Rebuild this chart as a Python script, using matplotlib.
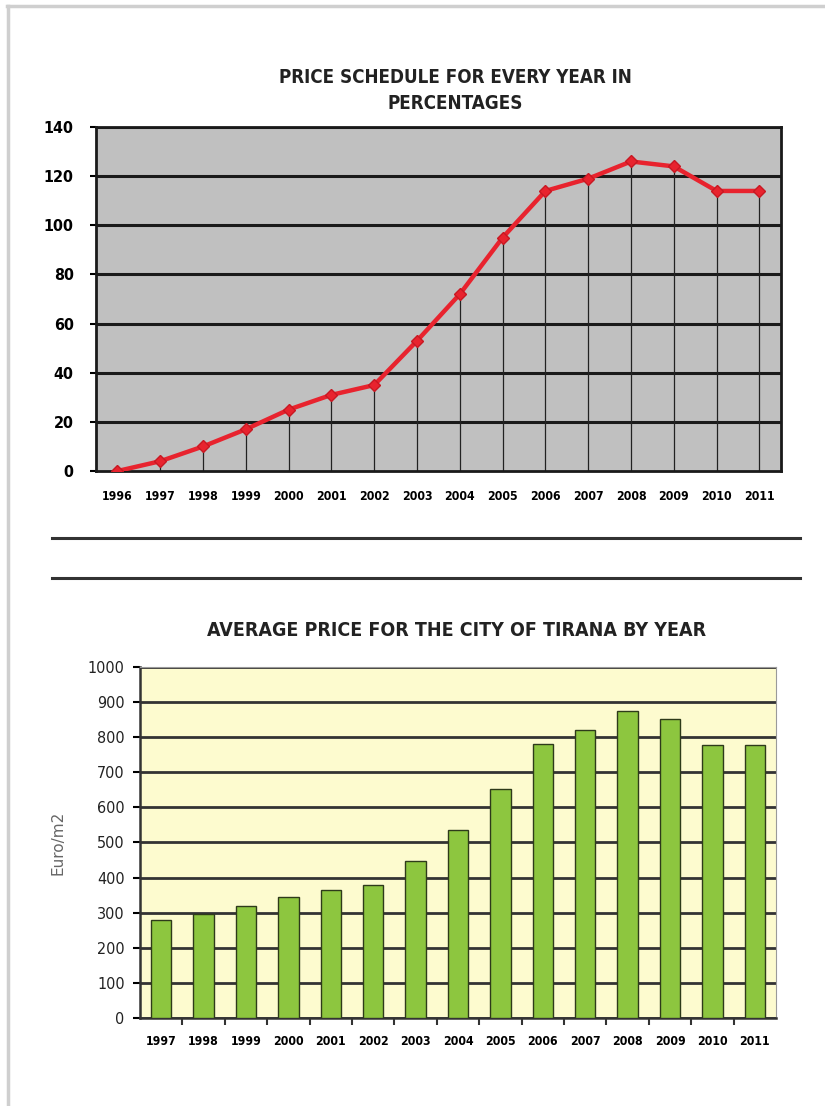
import numpy as np
import matplotlib
matplotlib.use("Agg")
import matplotlib.pyplot as plt
from matplotlib.lines import Line2D

# top chart: price index in percentages
years_pct = [1996, 1997, 1998, 1999, 2000, 2001, 2002, 2003,
             2004, 2005, 2006, 2007, 2008, 2009, 2010, 2011]
pct_values = [0, 4, 10, 17, 25, 31, 35, 53, 72, 95, 114, 119, 126, 124, 114, 114]
pct_ticks = [0, 20, 40, 60, 80, 100, 120, 140]

# bottom chart: average price Euro/m2
years_avg = ["1997", "1998", "1999", "2000", "2001", "2002", "2003", "2004",
             "2005", "2006", "2007", "2008", "2009", "2010", "2011"]
avg_values = [280, 297, 320, 345, 365, 378, 447, 535, 652, 780, 820, 875, 852, 778, 778]
avg_ticks = [0, 100, 200, 300, 400, 500, 600, 700, 800, 900, 1000]

narrow = ['DejaVu Sans']

fig = plt.figure(figsize=(8.25, 11.06), dpi=100)

# faint page frame (top/left shadow)
fig.add_artist(Line2D([0.008, 1.0], [0.995, 0.995], color="#cfcfcf", lw=2.5))
fig.add_artist(Line2D([0.010, 0.010], [0.0, 0.995], color="#cfcfcf", lw=2.5))

# ---------- top chart ----------
ax1 = fig.add_axes([0.1164, 0.5741, 0.830, 0.3110])
ax1.set_facecolor("#c0c0c0")
ax1.set_xlim(1995.5, 2011.5)
ax1.set_ylim(0, 140)
ax1.set_yticks(pct_ticks)
ax1.set_xticks(years_pct)
for y in pct_ticks[1:]:
    ax1.axhline(y, color="#1a1a1a", lw=2.2, zorder=1)
ax1.vlines(years_pct, 0, pct_values, color="#222222", lw=0.9, zorder=2)
ax1.plot(years_pct, pct_values, color="#e8232e", lw=3.2, marker="D",
         markersize=6, markerfacecolor="#e8232e", markeredgecolor="#c81822",
         zorder=3)
for s in ax1.spines.values():
    s.set_color("#1a1a1a")
    s.set_linewidth(2)
ax1.tick_params(axis="y", length=4, width=1.5, pad=12)
ax1.tick_params(axis="x", length=0, pad=14)
for lab in ax1.get_yticklabels():
    lab.set_family(narrow)
    lab.set_fontweight("bold")
    lab.set_fontsize(11.5)
    lab.set_stretch("condensed")
for lab in ax1.get_xticklabels():
    lab.set_family(narrow)
    lab.set_fontweight("bold")
    lab.set_fontsize(8.8)
    lab.set_stretch("condensed")
fig.text(0.552, 0.918, "PRICE SCHEDULE FOR EVERY YEAR IN\nPERCENTAGES",
         ha="center", va="center", fontsize=13.5, family=narrow,
         fontweight="semibold", stretch="condensed",
         color="#222222", linespacing=1.45)

# divider lines
fig.add_artist(Line2D([0.063, 0.970], [1 - 538 / 1106] * 2, color="#333333", lw=2.2))
fig.add_artist(Line2D([0.063, 0.970], [1 - 578 / 1106] * 2, color="#333333", lw=2.2))

# ---------- bottom chart ----------
ax2 = fig.add_axes([0.1697, 0.0796, 0.771, 0.3174])
ax2.set_facecolor("#fdfbcf")
x = np.arange(len(years_avg))
ax2.set_xlim(-0.5, len(years_avg) - 0.5)
ax2.set_ylim(0, 1000)
ax2.set_yticks(avg_ticks)
ax2.yaxis.grid(True, color="#333333", lw=2.0)
ax2.set_axisbelow(True)
ax2.bar(x, avg_values, width=0.48, color="#8dc63f", edgecolor="#2e3a1a",
        linewidth=1.0, zorder=3)
ax2.set_xticks(x)
ax2.set_xticklabels(years_avg)
ax2.set_xticks(x[:-1] + 0.5, minor=True)
ax2.tick_params(axis="x", which="major", length=0, pad=12)
ax2.tick_params(axis="x", which="minor", length=5, width=1.5, color="#333333")
ax2.tick_params(axis="y", length=5, width=1.5, pad=6)
ax2.spines["left"].set_color("#333333")
ax2.spines["left"].set_linewidth(1.8)
ax2.spines["bottom"].set_color("#333333")
ax2.spines["bottom"].set_linewidth(1.8)
ax2.spines["top"].set_color("#9a9a9a")
ax2.spines["right"].set_color("#9a9a9a")
for lab in ax2.get_yticklabels():
    lab.set_family(narrow)
    lab.set_fontsize(11.5)
    lab.set_color("#222222")
    lab.set_stretch("condensed")
for lab in ax2.get_xticklabels():
    lab.set_family(narrow)
    lab.set_fontweight("bold")
    lab.set_fontsize(8.8)
    lab.set_stretch("condensed")
ax2.set_ylabel("Euro/m2", fontsize=11, color="#666666", labelpad=16)
fig.text(0.554, 0.430, "AVERAGE PRICE FOR THE CITY OF TIRANA BY YEAR",
         ha="center", va="center", fontsize=14, family=narrow,
         fontweight="semibold", stretch="condensed", color="#222222")

fig.savefig("out.png", dpi=100, facecolor="white")
